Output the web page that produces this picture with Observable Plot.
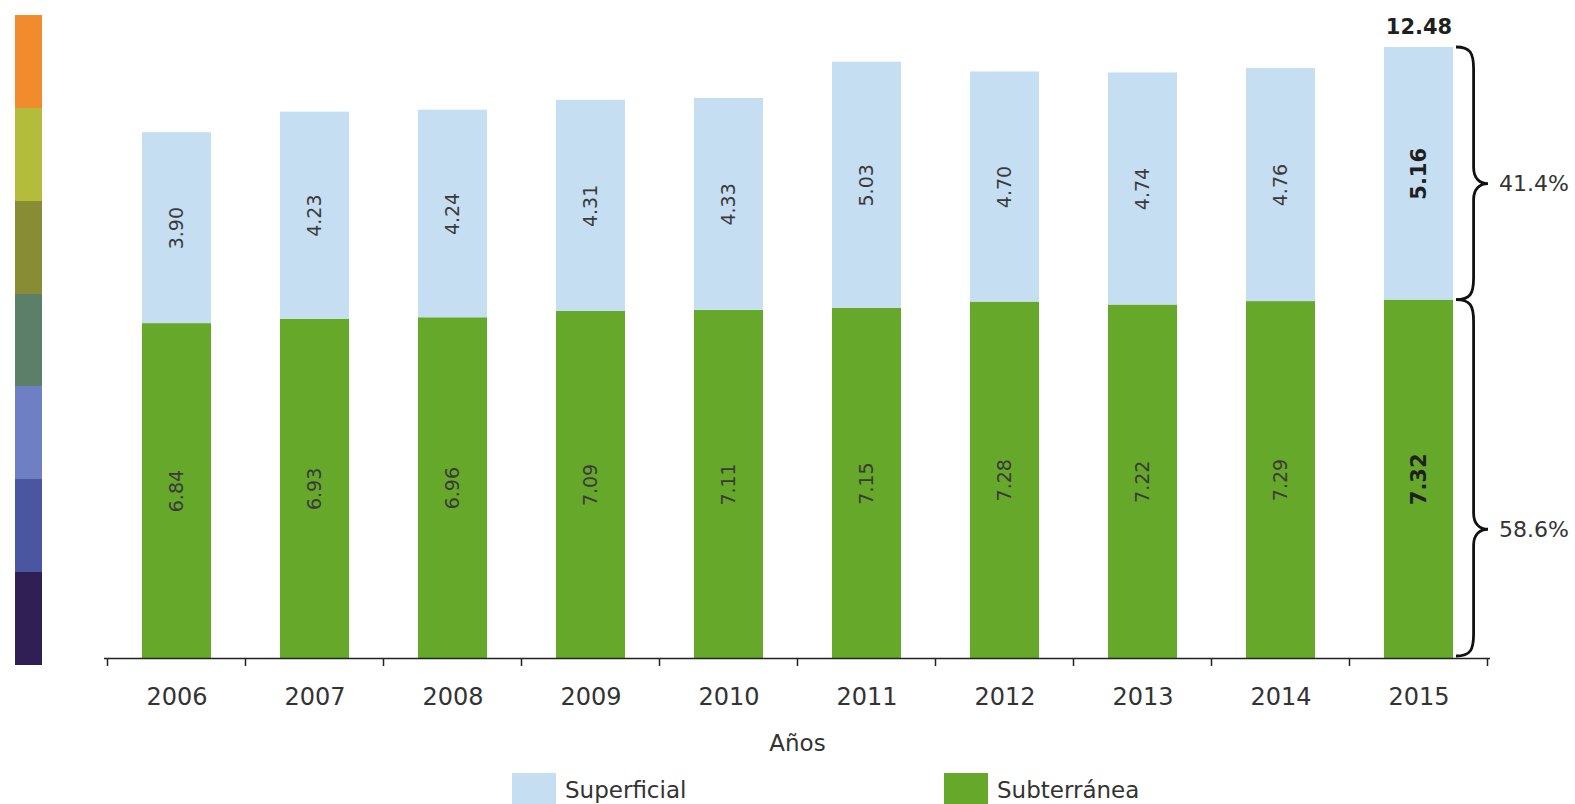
<!DOCTYPE html>
<html><head><meta charset="utf-8">
<script src="https://cdn.jsdelivr.net/npm/d3@7"></script>
<script src="https://cdn.jsdelivr.net/npm/@observablehq/plot@0.6"></script>
<style>
body{margin:0;background:#fff;font-family:"DejaVu Sans",sans-serif;}
#wrap{position:relative;width:1575px;height:804px;overflow:hidden;background:#fff;}
#chart{position:absolute;left:0;top:0;}
#strip{position:absolute;left:15px;top:15px;width:27px;height:650px;display:flex;flex-direction:column;}
#strip div{flex:1;}
#legend{position:absolute;top:773px;left:0;width:1575px;height:40px;}
.item{position:absolute;top:0;display:flex;align-items:center;font-size:23px;color:#333;}
.sw{width:44px;height:34px;margin-right:9px;}
</style></head><body>
<div id="wrap"><div id="chart"></div><div id="strip"></div><div id="legend"></div></div>
<script>
// ---- data ----
const years = ["2006","2007","2008","2009","2010","2011","2012","2013","2014","2015"];
const subterranea = [6.84,6.93,6.96,7.09,7.11,7.15,7.28,7.22,7.29,7.32];
const superficial = [3.90,4.23,4.24,4.31,4.33,5.03,4.70,4.74,4.76,5.16];
const seriesNames = ["Superficial","Subterránea"];
const seriesColors = ["#c5def2","#65a82a"];
const totalLabel = "12.48";
const shareLabels = ["41.4%","58.6%"];
const braceTips = [9.69, 2.63];
const xLabel = "Años";
const stripColors = ["#f28a2e","#b4bd3b","#878c35","#5b7f69","#6e7fc4","#4b56a1","#2f1f55"];

// ---- derived table ----
const rows = [];
years.forEach((yr,i)=>{
  rows.push({year:yr, series:"Subterránea", y1:0, y2:subterranea[i], value:subterranea[i]});
  rows.push({year:yr, series:"Superficial", y1:subterranea[i], y2:subterranea[i]+superficial[i], value:superficial[i]});
});
const lastYear = years[years.length-1];
const lastIdx = years.length-1;
const lastTotal = subterranea[lastIdx] + superficial[lastIdx];
const shares = shareLabels.map((t,i)=>({label:t, y:braceTips[i]}));

function bracePath(x0, yt, yb, ym, w){
  const xv = x0 + w*0.55, xt = x0 + w;
  return `M${x0},${yt} C${x0+w*0.45},${yt} ${xv},${yt+6} ${xv},${yt+22}`+
    ` L${xv},${ym-16} C${xv},${ym-5} ${x0+w*0.75},${ym} ${xt},${ym}`+
    ` C${x0+w*0.75},${ym} ${xv},${ym+5} ${xv},${ym+16}`+
    ` L${xv},${yb-22} C${xv},${yb-6} ${x0+w*0.45},${yb} ${x0},${yb}`;
}

const extras = (index, scales) => {
  const x = scales.x, y = scales.y;
  const step = x(years[1]) - x(years[0]);
  const bw = x.bandwidth ? x.bandwidth() : step*0.5;
  const gap = (step - bw)/2;
  const g = d3.create("svg:g");
  const y0 = y(0);
  const bounds = years.map(yr => x(yr) - gap).concat([x(lastYear) + bw + gap]);
  g.selectAll("line").data(bounds).join("line")
    .attr("x1", d=>d).attr("x2", d=>d).attr("y1", y0).attr("y2", y0+8)
    .attr("stroke","#222").attr("stroke-width",1.5);
  const bx = x(lastYear) + bw + 3;
  const yMid = y(subterranea[lastIdx]);
  const yTop = y(lastTotal);
  g.append("path").attr("d", bracePath(bx, yTop, yMid, y(braceTips[0]), 32))
    .attr("fill","none").attr("stroke","#111").attr("stroke-width",2.8);
  g.append("path").attr("d", bracePath(bx, yMid, y0-2, y(braceTips[1]), 32))
    .attr("fill","none").attr("stroke","#111").attr("stroke-width",2.8);
  return g.node();
};

const chart = Plot.plot({
  width: 1575, height: 760,
  marginLeft: 104, marginRight: 85, marginTop: 47, marginBottom: 102,
  style: {fontFamily: "DejaVu Sans, sans-serif", color: "#333", background: "#fff"},
  x: {domain: years, paddingInner: 0.5, paddingOuter: 0.25, tickSize: 0, tickPadding: 29, label: null},
  y: {domain: [0, lastTotal], axis: null},
  color: {domain: seriesNames, range: seriesColors},
  marks: [
    Plot.barY(rows, {x:"year", y1:"y1", y2:"y2", fill:"series"}),
    Plot.ruleY([0], {stroke:"#222", strokeWidth:1.5}),
    Plot.text(rows.filter(d=>d.year!==lastYear), {x:"year", y:d=>(d.y1+d.y2)/2, text:d=>d.value.toFixed(2), rotate:-90, fontSize:19, fill:"#3a3a3a"}),
    Plot.text(rows.filter(d=>d.year===lastYear), {x:"year", y:d=>(d.y1+d.y2)/2, text:d=>d.value.toFixed(2), rotate:-90, fontSize:21, fontWeight:"bold", fill:"#1f1f1f"}),
    Plot.text([lastTotal], {x:()=>lastYear, y:d=>d, text:()=>totalLabel, dy:-20, fontSize:21, fontWeight:"bold", fill:"#1f1f1f"}),
    Plot.text(shares, {x:()=>lastYear, y:"y", text:"label", dx:80, textAnchor:"start", fontSize:22, fill:"#333"}),
    Plot.text([xLabel], {frameAnchor:"bottom", lineAnchor:"middle", dy:85, text:d=>d, fontSize:23, fill:"#333"}),
    extras
  ]
});
chart.querySelectorAll('[aria-label="x-axis tick label"] text, g[aria-label="x-axis tick label"]').forEach(n=>{n.setAttribute("font-size","24");});
document.getElementById("chart").appendChild(chart);

// decorative strip
const strip = document.getElementById("strip");
stripColors.forEach(c=>{const d=document.createElement("div"); d.style.background=c; strip.appendChild(d);});

// legend
const legend = document.getElementById("legend");
const legendX = [512, 944];
seriesNames.forEach((name,i)=>{
  const it = document.createElement("div"); it.className="item"; it.style.left = legendX[i]+"px";
  const sw = document.createElement("div"); sw.className="sw"; sw.style.background = seriesColors[i];
  const tx = document.createElement("span"); tx.textContent = name;
  it.appendChild(sw); it.appendChild(tx); legend.appendChild(it);
});
</script>
</body></html>
